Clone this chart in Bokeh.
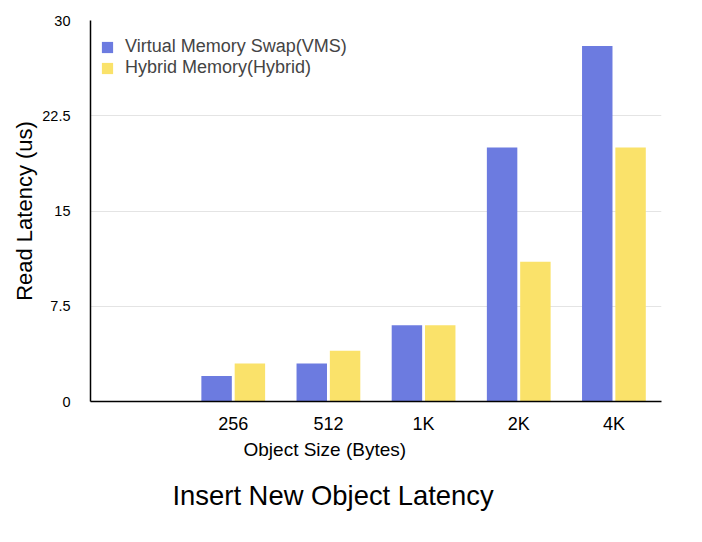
from bokeh.plotting import figure
from bokeh.models import ColumnDataSource, FactorRange, Range1d, FixedTicker, Legend, LegendItem, Title
from bokeh.transform import dodge
from bokeh.embed import file_html
from bokeh.resources import INLINE

factors = ["", "256", "512", "1K", "2K", "4K"]
sizes = ["256", "512", "1K", "2K", "4K"]
vms = [2, 3, 6, 20, 28]
hybrid = [3, 4, 6, 11, 20]
y_ticks = [0, 7.5, 15, 22.5, 30]
y_tick_labels = {0: "0", 7.5: "7.5", 15: "15", 22.5: "22.5", 30: "30"}

FONT = "Liberation Sans"
BLUE = "#6c7be0"
YELLOW = "#fae26a"

src = ColumnDataSource(dict(size=sizes, vms=vms, hybrid=hybrid))

p = figure(width=702, height=542, x_range=FactorRange(*factors, range_padding=0),
           y_range=Range1d(0, 30), output_backend="svg", toolbar_location=None,
           min_border_left=90, min_border_right=41, min_border_top=20, min_border_bottom=141)

r1 = p.vbar(x=dodge("size", -0.175, range=p.x_range), top="vms", width=0.32, source=src,
            fill_color=BLUE, line_color=None)
r2 = p.vbar(x=dodge("size", 0.175, range=p.x_range), top="hybrid", width=0.32, source=src,
            fill_color=YELLOW, line_color=None)

p.outline_line_color = None
p.xgrid.grid_line_color = None
p.ygrid.grid_line_color = "#e4e4e4"
p.ygrid.grid_line_width = 1

p.yaxis.ticker = FixedTicker(ticks=y_ticks)
p.yaxis.major_label_overrides = y_tick_labels
for ax in (p.xaxis[0], p.yaxis[0]):
    ax.major_tick_line_color = None
    ax.minor_tick_line_color = None
    ax.axis_line_color = "black"
    ax.axis_line_width = 1.5
    ax.major_label_text_font = FONT
    ax.major_label_text_color = "black"
    ax.axis_label_text_font = FONT
    ax.axis_label_text_font_style = "normal"
    ax.axis_label_text_color = "black"

p.yaxis.major_label_text_font_size = "14.5px"
p.yaxis.major_label_standoff = 14
p.yaxis.axis_label = "Read Latency (us)"
p.yaxis.axis_label_text_font_size = "22px"
p.yaxis.axis_label_standoff = 2

p.xaxis.major_label_text_font_size = "18px"
p.xaxis.major_label_standoff = 6

p.add_layout(Title(text="Object Size (Bytes)", align="left", offset=153, text_font=FONT,
                   text_font_size="19px", text_font_style="normal", text_color="black",
                   standoff=0), "below")
p.add_layout(Title(text="Insert New Object Latency", align="left", offset=82, text_font=FONT,
                   text_font_size="27.4px", text_font_style="normal", text_color="black",
                   standoff=37), "below")

legend = Legend(items=[LegendItem(label="Virtual Memory Swap(VMS)", renderers=[r1]),
                       LegendItem(label="Hybrid Memory(Hybrid)", renderers=[r2])],
                location=(10, 323), margin=0, padding=0, spacing=0,
                glyph_width=14, glyph_height=14, label_height=20, label_standoff=11,
                label_text_font=FONT, label_text_font_size="18px",
                background_fill_alpha=0, border_line_color=None)
p.add_layout(legend, "center")

open("out.html", "w").write(file_html(p, INLINE))
